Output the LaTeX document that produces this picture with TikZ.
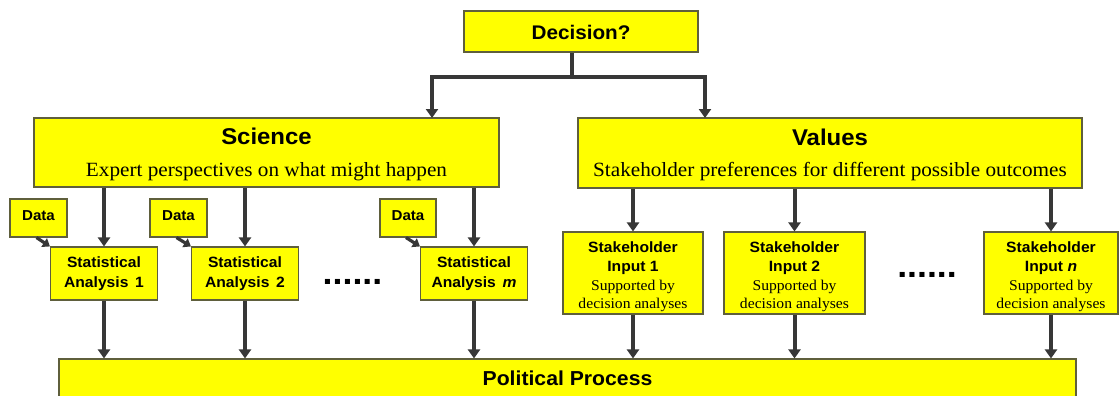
\documentclass[tikz,border=0pt]{standalone}
\usepackage{fontspec}
\setmainfont{Liberation Serif}[FakeStretch=1.05]
\setsansfont{Liberation Sans}[FakeStretch=1.05]
\usetikzlibrary{arrows.meta}
\definecolor{boxfill}{RGB}{255,255,0}
\definecolor{boxline}{RGB}{95,95,60}
\definecolor{arrc}{RGB}{55,55,55}
\tikzset{
  box/.style={draw=boxline, fill=boxfill, line width=1.1pt, inner sep=0pt},
  arr/.style={draw=arrc, line width=4pt, -{Triangle[width=12pt,length=9pt]}},
  ln/.style={draw=arrc, line width=4pt},
  darr/.style={draw=arrc, line width=3.2pt, -{Triangle[width=10pt,length=7pt]}},
  txt/.style={inner sep=0pt, anchor=base},
  bigsans/.style={txt, font=\sffamily\bfseries\fontsize{19.7}{22}\selectfont},
  headsans/.style={txt, font=\sffamily\bfseries\fontsize{22.8}{25}\selectfont},
  subserif/.style={txt, font=\rmfamily\fontsize{20.2}{22}\selectfont},
  smallsans/.style={txt, font=\sffamily\bfseries\fontsize{14.9}{17}\selectfont},
  smallserif/.style={txt, font=\rmfamily\fontsize{14.9}{17}\selectfont},
  datasans/.style={txt, font=\sffamily\bfseries\fontsize{14.4}{16}\selectfont},
  dots/.style={txt, font=\sffamily\bfseries\fontsize{34}{36}\selectfont},
}
\begin{document}
\begin{tikzpicture}[x=1pt, y=-1pt]
\clip (0,0) rectangle (1119,396);
\fill[white] (0,0) rectangle (1119,396);

% boxes
\node[box, minimum width=234pt, minimum height=41pt] (dec) at (581,31.5) {};
\node[box, minimum width=465pt, minimum height=69pt] (sci) at (266.5,152.5) {};
\node[box, minimum width=504pt, minimum height=70pt] (val) at (830,153) {};

\node[box, minimum width=57pt, minimum height=38pt] (data1) at (38.5,218) {};
\node[box, minimum width=57pt, minimum height=38pt] (data2) at (178.5,218) {};
\node[box, minimum width=56pt, minimum height=38pt] (data3) at (408,218) {};

\node[box, minimum width=107pt, minimum height=53pt] (stat1) at (104,273.5) {};
\node[box, minimum width=107pt, minimum height=53pt] (stat2) at (245,273.5) {};
\node[box, minimum width=107pt, minimum height=53pt] (stat3) at (474,273.5) {};

\node[box, minimum width=140pt, minimum height=82pt] (sh1) at (633,273) {};
\node[box, minimum width=141pt, minimum height=82pt] (sh2) at (794.5,273) {};
\node[box, minimum width=134pt, minimum height=82pt] (sh3) at (1051,273) {};

\node[box, minimum width=1017pt, minimum height=41pt] (pol) at (567.5,379.5) {};

% texts
\node[bigsans] (decT) at (581,40) {Decision?};
\node[headsans] (sciT) at (266.5,144) {Science};
\node[subserif] (sciS) at (266.5,176) {Expert perspectives on what might happen};
\node[headsans] (valT) at (830,145) {Values};
\node[subserif] (valS) at (830,176) {Stakeholder preferences for different possible outcomes};

\node[datasans] (d1T) at (38.5,220) {Data};
\node[datasans] (d2T) at (178.5,220) {Data};
\node[datasans] (d3T) at (408,220) {Data};

\node[smallsans] (s1a) at (104,267) {Statistical};
\node[smallsans] (s1b) at (104,287) {Analysis\hspace{0.45em}1};
\node[smallsans] (s2a) at (245,267) {Statistical};
\node[smallsans] (s2b) at (245,287) {Analysis\hspace{0.45em}2};
\node[smallsans] (s3a) at (474,267) {Statistical};
\node[smallsans] (s3b) at (474,287) {Analysis\hspace{0.45em}\textit{m}};

\node[smallsans] (h1a) at (633,252) {Stakeholder};
\node[smallsans] (h1b) at (633,271) {Input 1};
\node[smallserif] (h1c) at (633,290) {Supported by};
\node[smallserif] (h1d) at (633,308) {decision analyses};
\node[smallsans] (h2a) at (794.5,252) {Stakeholder};
\node[smallsans] (h2b) at (794.5,271) {Input 2};
\node[smallserif] (h2c) at (794.5,290) {Supported by};
\node[smallserif] (h2d) at (794.5,308) {decision analyses};
\node[smallsans] (h3a) at (1051,252) {Stakeholder};
\node[smallsans] (h3b) at (1051,271) {Input \textit{n}};
\node[smallserif] (h3c) at (1051,290) {Supported by};
\node[smallserif] (h3d) at (1051,308) {decision analyses};

\node[bigsans, font=\sffamily\bfseries\fontsize{20.2}{22}\selectfont] (polT) at (567.5,385) {Political Process};

\node[dots] (dotsA) at (352.5,284) {......};
\node[dots] (dotsB) at (927,277) {......};

% connectors
\coordinate (br) at (572,77);
\coordinate (sciIn) at (432,118);
\coordinate (valIn) at (705,118);
\draw[ln] (dec.south -| br) -- (br);
\draw[arr] (br) -| (sciIn);
\draw[arr] (br) -| (valIn);

\foreach \s in {stat1,stat2,stat3}{
  \draw[arr] (\s.north |- sci.south) -- (\s.north);
  \draw[arr] (\s.south) -- (\s.south |- pol.north);
}
\foreach \s in {sh1,sh2,sh3}{
  \draw[arr] (\s.north |- val.south) -- (\s.north);
  \draw[arr] (\s.south) -- (\s.south |- pol.north);
}
\draw[darr] ([xshift=-2pt]data1.south) -- (stat1.north west);
\draw[darr] ([xshift=-2pt]data2.south) -- (stat2.north west);
\draw[darr] ([xshift=-2pt]data3.south) -- (stat3.north west);
\end{tikzpicture}
\end{document}
